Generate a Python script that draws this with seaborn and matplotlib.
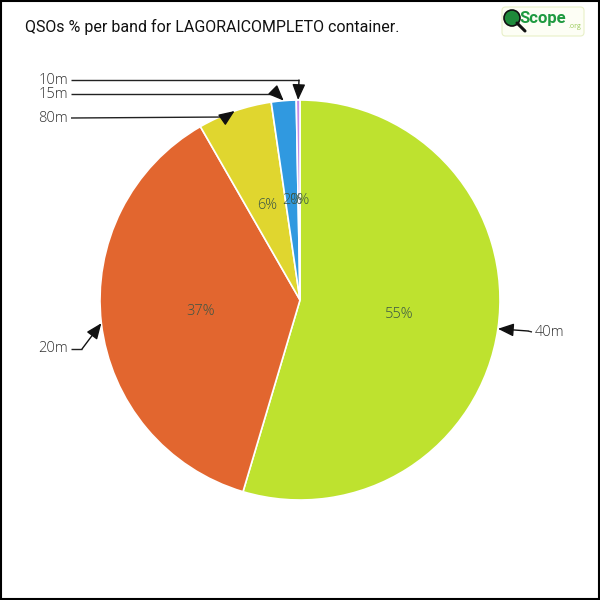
import numpy as np
import matplotlib
matplotlib.use("Agg")
import matplotlib.pyplot as plt
import seaborn as sns
from matplotlib.patches import Rectangle, FancyBboxPatch, Circle

bands = ["40m", "20m", "80m", "15m", "10m"]
shares = [54.6, 37.1, 6.0, 2.0, 0.3]
colors = ["#BEE22F", "#E2662F", "#E0D62F", "#3099E0", "#C58BE8"]
pct_labels = ["55%", "37%", "6%", "2%", "0%"]
title = "QSOs % per band for LAGORAICOMPLETO container."

sns.set_theme(style="white")
plt.rcParams["font.family"] = ["Open Sans", "DejaVu Sans"]

fig = plt.figure(figsize=(6, 6), dpi=100)
ax = fig.add_axes([0, 0, 1, 1])

def px(x, y):
    return ((x - 300) / 200.0, (300 - y) / 200.0)

wedges, _ = ax.pie(shares, colors=colors, startangle=90, counterclock=False,
                   radius=1.0, wedgeprops=dict(edgecolor="white", linewidth=1.2))
ax.set_xlim(-1.5, 1.5)
ax.set_ylim(-1.5, 1.5)
ax.set_aspect("equal")
ax.axis("off")

# percentage labels
for w, lab in zip(wedges, pct_labels):
    mid = np.deg2rad((w.theta1 + w.theta2) / 2)
    ax.text(0.5 * np.cos(mid), 0.5 * np.sin(mid), lab, ha="center", va="center",
            fontsize=10.5, color="#3a5545", fontweight="light")

# leader layout: text position (px), alignment, elbow (px)
layout = {
    "40m": dict(text=(533, 332), ha="left", elbow=(528, 331)),
    "20m": dict(text=(70, 349), ha="right", elbow=(82, 349)),
    "80m": dict(text=(70, 118), ha="right", elbow=(226, 117)),
    "15m": dict(text=(70, 94), ha="right", elbow=(277, 94)),
    "10m": dict(text=(70, 80), ha="right", elbow=(299, 80)),
}
for w, band in zip(wedges, bands):
    mid = np.deg2rad((w.theta1 + w.theta2) / 2)
    tip = (np.cos(mid), np.sin(mid))
    L = layout[band]
    tx, ty = px(*L["text"])
    ex, ey = px(*L["elbow"])
    sx = tx + (0.005 if L["ha"] == "right" else -0.005)
    ax.plot([sx, ex], [ty, ey], color="#222222", lw=1, solid_capstyle="butt")
    ax.annotate("", xy=tip, xytext=(ex, ey),
                arrowprops=dict(arrowstyle="-|>,head_length=0.8,head_width=0.33",
                                color="#111111", lw=1,
                                mutation_scale=12, shrinkA=0, shrinkB=0))
    ax.text(tx + (0.01 if L["ha"] == "left" else -0.01), ty, band,
            ha=L["ha"], va="center", fontsize=10.5, color="#333333",
            fontweight="light")

# title
fig.text(25 / 600, 1 - 27 / 600, title, ha="left", va="center", fontsize=11.5,
         color="#111111", family=["Roboto", "DejaVu Sans"])

# logo
logo = FancyBboxPatch((502 / 600, 1 - 36 / 600), 82 / 600, 29 / 600,
                      boxstyle="round,pad=0,rounding_size=0.006",
                      transform=fig.transFigure, facecolor="#FDFEF5",
                      edgecolor="#E8F0C8", lw=0.8)
fig.add_artist(logo)
fig.add_artist(Circle((512 / 600, 1 - 18 / 600), 8 / 600, transform=fig.transFigure,
                      facecolor="#1E8A3A", edgecolor="#111111", lw=1.2))
fig.add_artist(plt.Line2D([517 / 600, 525 / 600], [1 - 23 / 600, 1 - 31 / 600],
                          transform=fig.transFigure, color="#111111", lw=2.2))
fig.text(519 / 600, 1 - 19 / 600, "Scope", ha="left", va="center", fontsize=12,
         color="#1E9A40", fontweight="bold", family=["Roboto", "DejaVu Sans"])
fig.text(568 / 600, 1 - 27 / 600, ".org", ha="left", va="center", fontsize=5,
         color="#9ACB5A")

# frame
fig.add_artist(Rectangle((0.001, 0.001), 0.997, 0.997, transform=fig.transFigure,
                         fill=False, edgecolor="black", lw=1.5))

fig.savefig("out.png", dpi=100)
